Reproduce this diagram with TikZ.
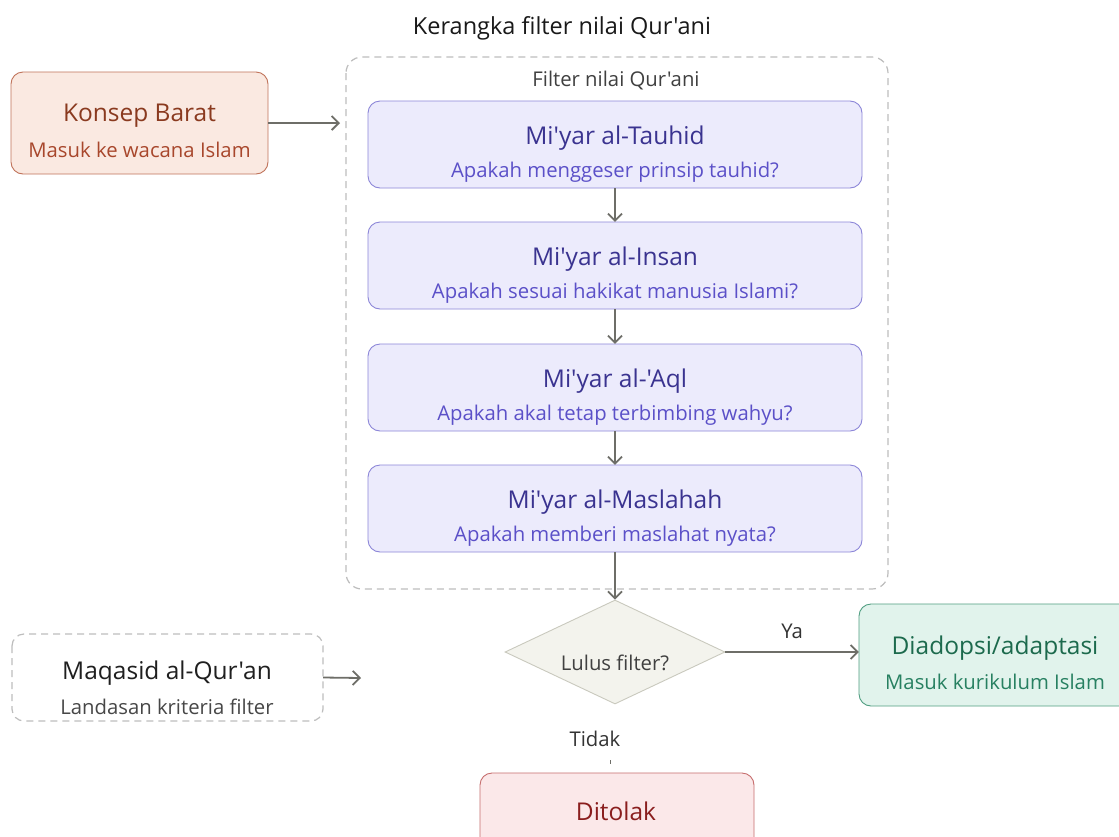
\documentclass[tikz,border=0pt]{standalone}
\usepackage{fontspec}
\newfontfamily\basefont{Open Sans}
\usetikzlibrary{arrows.meta,shapes.geometric,positioning}
\definecolor{arr}{HTML}{6E6E68}
\definecolor{wfill}{HTML}{FAE9E1}
\definecolor{wdraw}{HTML}{C0735A}
\definecolor{wtitle}{HTML}{8A3A1F}
\definecolor{wsub}{HTML}{A8472C}
\definecolor{pfill}{HTML}{ECEBFC}
\definecolor{pdraw}{HTML}{8C86D8}
\definecolor{ptitle}{HTML}{3A3390}
\definecolor{psub}{HTML}{5B50C8}
\definecolor{dfill}{HTML}{F3F3ED}
\definecolor{ddraw}{HTML}{C9C9BE}
\definecolor{gfill}{HTML}{E1F3EC}
\definecolor{gdraw}{HTML}{519E82}
\definecolor{gtitle}{HTML}{1C6A4D}
\definecolor{gsub}{HTML}{278061}
\definecolor{rfill}{HTML}{FBE8E9}
\definecolor{rdraw}{HTML}{C66D6D}
\definecolor{rtitle}{HTML}{8A1E1E}
\definecolor{dashgray}{HTML}{BDBDBD}
\tikzset{
  conn/.style={draw=arr, line width=1.8pt, -{Straight Barb[length=7pt,width=14pt,line width=1.8pt]}},
  rbox/.style={rounded corners=12pt, line width=0.9pt},
  dashbox/.style={draw=dashgray, dash pattern=on 7pt off 5pt, line width=1.2pt},
  ttl/.style={font=\basefont\fontsize{24.5}{28}\selectfont},
  sub/.style={font=\basefont\fontsize{20.3}{24}\selectfont},
}
\begin{document}
\begin{tikzpicture}[x=1pt,y=-1pt]
\clip (0,0) rectangle (1119,836);
\fill[white] (0,0) rectangle (1119,836);
% title
\node[font=\basefont\fontsize{23.5}{28}\selectfont, text=black!90] (title) at (562,28) {Kerangka filter nilai Qur'ani};
% container
\draw[dashbox, rounded corners=16pt] (346,57) rectangle (888,589);
\node[sub, text=black!75] (flabel) at (616,81) {Filter nilai Qur'ani};
% Konsep Barat
\draw[rbox, fill=wfill, draw=wdraw] (11,72) rectangle (268,174);
\node (kb) at (139.5,123) [minimum width=257pt, minimum height=102pt] {};
\node[ttl, text=wtitle] (kbt) at (139.5,116) {Konsep Barat};
\node[sub, text=wsub] (kbs) at (139.5,150) {Masuk ke wacana Islam};
\coordinate (fin) at (340,123);
\draw[conn] (kb.east) -- (fin);
% purple boxes
\foreach \n/\y/\t/\s in {t1/101/{Mi'yar al-Tauhid}/{Apakah menggeser prinsip tauhid?},
                          t2/222/{Mi'yar al-Insan}/{Apakah sesuai hakikat manusia Islami?},
                          t3/344/{Mi'yar al-'Aql}/{Apakah akal tetap terbimbing wahyu?},
                          t4/465/{Mi'yar al-Maslahah}/{Apakah memberi maslahat nyata?}}{
  \draw[rbox, fill=pfill, draw=pdraw] (368,\y) rectangle (862,\y+87);
  \node (\n) at (615,\y+43.5) [minimum width=494pt, minimum height=87pt] {};
  \node[ttl, text=ptitle] at (615,\y+37) {\t};
  \node[sub, text=psub] at (615,\y+71) {\s};
}
\draw[conn] (t1.south) -- (t2.north);
\draw[conn] (t2.south) -- (t3.north);
\draw[conn] (t3.south) -- (t4.north);
% diamond
\node[diamond, aspect=2.1, fill=dfill, draw=ddraw, line width=0.9pt, minimum width=220pt, minimum height=104pt, inner sep=0pt] (dec) at (615,652) {};
\node[sub, text=black!75] (dect) at (615,663) {Lulus filter?};
\draw[conn] (t4.south) -- (dec.north);
% Diadopsi
\draw[rbox, fill=gfill, draw=gdraw] (859,604) rectangle (1135,706);
\node (ok) at (997,655) [minimum width=276pt, minimum height=102pt] {};
\node[ttl, text=gtitle] at (995,648) {Diadopsi/adaptasi};
\node[sub, text=gsub] at (995,682) {Masuk kurikulum Islam};
\draw[conn] (dec.east) -- (dec.east -| ok.west) node[pos=0.5, above=9pt, sub, text=black!80] {Ya};
% Maqasid
\draw[dashbox, rounded corners=12pt] (12,634) rectangle (323,721);
\node (mq) at (167.5,677.5) [minimum width=311pt, minimum height=87pt] {};
\node[ttl, text=black!88] at (167,673) {Maqasid al-Qur'an};
\node[sub, text=black!72] at (167,707) {Landasan kriteria filter};
\coordinate (mqe) at (361,678);
\draw[conn] (mq.east) -- (mqe);
% Tidak
\node[sub, text=black!80] (tidak) at (595,739) {Tidak};
\draw[arr, line width=0.8pt] (610,760) -- (610,764);
% Ditolak
\draw[rbox, fill=rfill, draw=rdraw] (480,773) rectangle (754,860);
\node[ttl, text=rtitle] (rej) at (616,811) {Ditolak};
\end{tikzpicture}
\end{document}
